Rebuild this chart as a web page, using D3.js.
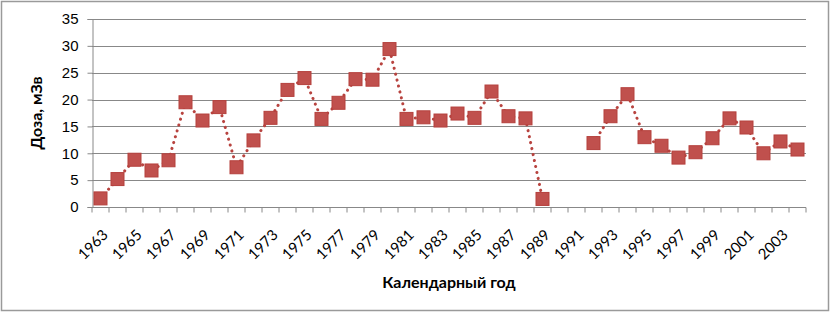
<!DOCTYPE html>
<html>
<head>
<meta charset="utf-8">
<script src="https://cdn.jsdelivr.net/npm/d3@7"></script>
<style>
  body { margin: 0; background: #fff; }
  svg { display: block; font-family: Lato, "Open Sans", sans-serif; }
</style>
</head>
<body>
<svg id="chart" width="831" height="313"></svg>
<script>
(function () {
  'use strict';

  // calendar years on the category axis
  const years = d3.range(1963, 2005);
  // dose per year, mSv (null = no data)
  const doses = [
    1.6, 5.2, 8.8, 6.8, 8.7, 19.5, 16.1, 18.6, 7.4, 12.4,
    16.6, 21.8, 24.0, 16.4, 19.4, 23.8, 23.7, 29.4, 16.4, 16.7,
    16.1, 17.4, 16.6, 21.5, 16.9, 16.5, 1.5, null, null, 11.9,
    16.9, 21.0, 13.0, 11.4, 9.2, 10.2, 12.8, 16.5, 14.8, 10.0,
    12.2, 10.7
  ];
  const yTicks = [0, 5, 10, 15, 20, 25, 30, 35];
  const yTitle = 'Доза, мЗв';
  const xTitle = 'Календарный год';

  const svg = d3.select('#chart');
  const M = { left: 92, right: 806, top: 19, bottom: 207 };

  svg.append('rect')
    .attr('x', 1.5).attr('y', 1.5).attr('width', 827).attr('height', 309)
    .attr('fill', '#fff').attr('stroke', '#9a9a9a').attr('stroke-width', 1.5);

  const x = d3.scaleBand().domain(years).range([M.left, M.right]);
  const y = d3.scaleLinear().domain([0, 35]).range([M.bottom, M.top]);

  // grid lines
  svg.append('g').selectAll('line').data(yTicks.slice(1)).enter().append('line')
    .attr('x1', M.left).attr('x2', M.right)
    .attr('y1', d => Math.round(y(d)) + 0.5).attr('y2', d => Math.round(y(d)) + 0.5)
    .attr('stroke', '#888').attr('stroke-width', 1);

  // y axis
  const yAxis = svg.append('g')
    .attr('transform', `translate(${M.left + 0.5},0)`)
    .call(d3.axisLeft(y).tickValues(yTicks).tickSize(5).tickPadding(9));
  yAxis.select('.domain').attr('stroke', '#888');
  yAxis.selectAll('.tick line').attr('stroke', '#888');
  yAxis.selectAll('text').attr('font-size', 15).attr('fill', '#000');

  // x axis: ticks between categories
  const xg = svg.append('g').attr('transform', `translate(0,${Math.round(M.bottom) + 0.5})`);
  xg.append('line').attr('x1', M.left).attr('x2', M.right).attr('stroke', '#888');
  xg.selectAll('line.t').data(years.concat([2005])).enter().append('line')
    .attr('class', 't')
    .attr('x1', d => d === 2005 ? M.right : x(d)).attr('x2', d => d === 2005 ? M.right : x(d))
    .attr('y1', 0).attr('y2', 5)
    .attr('stroke', '#888');
  xg.selectAll('text').data(years.filter((d, i) => i % 2 === 0)).enter().append('text')
    .attr('transform', d => `translate(${x(d) + x.bandwidth() / 2 + 1},${21}) rotate(-45)`)
    .attr('text-anchor', 'end')
    .attr('dy', '0.7em')
    .attr('font-size', 15)
    .text(d => d);

  // series line, broken where data is missing
  const pts = years.map((yr, i) => ({ yr, v: doses[i] }));
  const line = d3.line()
    .defined(d => d.v !== null)
    .x(d => x(d.yr) + x.bandwidth() / 2)
    .y(d => y(d.v));
  svg.append('path')
    .datum(pts)
    .attr('d', line)
    .attr('fill', 'none')
    .attr('stroke', '#b8433f')
    .attr('stroke-width', 3)
    .attr('stroke-linecap', 'round')
    .attr('stroke-dasharray', '0.1,6');

  const S = 13;
  svg.append('g').selectAll('rect').data(pts.filter(d => d.v !== null)).enter().append('rect')
    .attr('x', d => x(d.yr) + x.bandwidth() / 2 - S / 2)
    .attr('y', d => y(d.v) - S / 2)
    .attr('width', S).attr('height', S)
    .attr('fill', '#c0504d')
    .attr('stroke', '#b5403d').attr('stroke-width', 1);

  // axis titles
  svg.append('text')
    .attr('transform', `translate(42,${(M.top + M.bottom) / 2}) rotate(-90)`)
    .attr('text-anchor', 'middle')
    .attr('font-size', 16).attr('font-weight', 'bold')
    .text(yTitle);
  svg.append('text')
    .attr('x', 449).attr('y', 288)
    .attr('text-anchor', 'middle')
    .attr('font-size', 16).attr('font-weight', 'bold')
    .text(xTitle);
}());
</script>
</body>
</html>
